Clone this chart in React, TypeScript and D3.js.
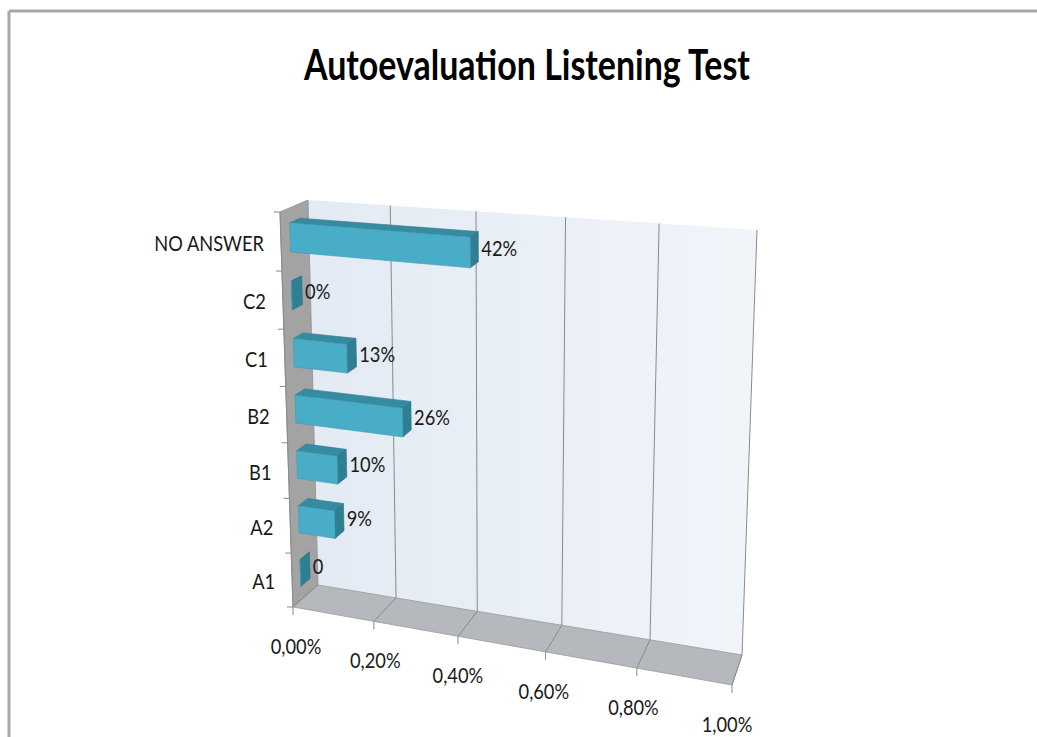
import * as d3 from "d3";

const categories = ["NO ANSWER", "C2", "C1", "B2", "B1", "A2", "A1"];
const values = [0.42, 0, 0.13, 0.26, 0.1, 0.09, 0];
const valueLabels = ["42%", "0%", "13%", "26%", "10%", "9%", "0"];
const tickValues = [0, 0.2, 0.4, 0.6, 0.8, 1];
const tickLabels = ["0,00%", "0,20%", "0,40%", "0,60%", "0,80%", "1,00%"];

type Pt = [number, number];

// square -> quad homography (corners: TL, TR, BR, BL)
function quadMap(p0: Pt, p1: Pt, p2: Pt, p3: Pt) {
  const sx = p0[0] - p1[0] + p2[0] - p3[0];
  const sy = p0[1] - p1[1] + p2[1] - p3[1];
  const dx1 = p1[0] - p2[0], dx2 = p3[0] - p2[0];
  const dy1 = p1[1] - p2[1], dy2 = p3[1] - p2[1];
  const den = dx1 * dy2 - dx2 * dy1;
  const g = (sx * dy2 - dx2 * sy) / den;
  const h = (dx1 * sy - sx * dy1) / den;
  const a = p1[0] - p0[0] + g * p1[0], b = p3[0] - p0[0] + h * p3[0], c = p0[0];
  const d = p1[1] - p0[1] + g * p1[1], e = p3[1] - p0[1] + h * p3[1], f = p0[1];
  return (u: number, v: number): Pt => {
    const w = g * u + h * v + 1;
    return [(a * u + b * v + c) / w, (d * u + e * v + f) / w];
  };
}

// back plane and front plane of the 3D box
const back = quadMap([308, 200], [757, 230], [742, 655], [318, 585]);
const front = quadMap([280, 212], [744, 250], [732, 685], [293, 607]);

function P(u: number, v: number, z: number): Pt {
  const f = front(u, v), b = back(u, v);
  return [f[0] + (b[0] - f[0]) * z, f[1] + (b[1] - f[1]) * z];
}

const poly = (pts: Pt[]) => `M${pts.map((p) => p.join(",")).join("L")}Z`;

// narrow label, Calibri-ish proportions
function Label(props: { x: number; y: number; anchor?: string; children: string }) {
  return (
    <text
      transform={`translate(${props.x},${props.y}) scale(0.87,1)`}
      textAnchor={props.anchor ?? "start"}
      dominantBaseline="central"
      fontSize={21}
      fill="#1a1a1a"
    >
      {props.children}
    </text>
  );
}

function App() {
  const x = d3.scaleLinear().domain([0, 1]).range([0, 1]);
  const y = d3
    .scaleBand<string>()
    .domain(categories)
    .range([0, 1])
    .paddingInner(0.5)
    .paddingOuter(0.25);
  const step = y.step();
  const z0 = 0.33;
  const z1 = 0.7;
  const font = "Lato, 'Open Sans', sans-serif";

  return (
    <svg
      width={1037}
      height={737}
      style={{ position: "absolute", left: 0, top: 0, background: "#fff" }}
      fontFamily={font}
    >
      <defs>
        <linearGradient id="wall" x1="300" y1="0" x2="760" y2="0" gradientUnits="userSpaceOnUse">
          <stop offset="0" stopColor="#e3eaf3" />
          <stop offset="1" stopColor="#f1f5fa" />
        </linearGradient>
      </defs>
      {/* chart frame */}
      <line x1={9} y1={11} x2={1037} y2={11} stroke="#a8a8a8" strokeWidth={3} />
      <line x1={9} y1={11} x2={9} y2={737} stroke="#a8a8a8" strokeWidth={3} />

      <text x={304} y={80} fontSize={42} fontWeight="bold" fill="#000" textLength={446} lengthAdjust="spacingAndGlyphs">
        Autoevaluation Listening Test
      </text>

      {/* walls */}
      <path d={poly([P(0, 0, 1), P(1, 0, 1), P(1, 1, 1), P(0, 1, 1)])} fill="url(#wall)" />
      <path d={poly([P(0, 0, 0), P(0, 0, 1), P(0, 1, 1), P(0, 1, 0)])} fill="#a3a3a3" stroke="#8f8f8f" strokeWidth={0.8} />
      <path d={poly([P(0, 1, 0), P(1, 1, 0), P(1, 1, 1), P(0, 1, 1)])} fill="#b5b8bc" stroke="#9a9a9a" strokeWidth={0.8} />

      {/* gridlines */}
      {tickValues.map((t, i) => {
        const a = P(x(t), 0, 1), b = P(x(t), 1, 1), c = P(x(t), 1, 0);
        return (
          <g key={i} stroke="#8a8a8a" strokeWidth={1}>
            {i > 0 && <line x1={a[0]} y1={a[1]} x2={b[0]} y2={b[1]} />}
            <line x1={b[0]} y1={b[1]} x2={c[0]} y2={c[1]} />
            <line x1={c[0]} y1={c[1]} x2={c[0]} y2={c[1] + 8} />
          </g>
        );
      })}

      {/* category axis ticks */}
      {d3.range(categories.length + 1).map((k) => {
        const p = P(0, k * step, 0);
        return <line key={k} x1={p[0] - 6} y1={p[1]} x2={p[0]} y2={p[1]} stroke="#8a8a8a" strokeWidth={1} />;
      })}
      {(() => {
        const a = P(0, 0, 0), b = P(0, 1, 0);
        return <line x1={a[0]} y1={a[1]} x2={b[0]} y2={b[1]} stroke="#8a8a8a" strokeWidth={1} />;
      })()}

      {/* bars */}
      {categories.map((cat, i) => {
        const v0 = y(cat) ?? 0;
        const v1 = v0 + y.bandwidth();
        const u = x(values[i]);
        const top = [P(0, v0, z0), P(u, v0, z0), P(u, v0, z1), P(0, v0, z1)];
        const end = [P(u, v0, z0), P(u, v0, z1), P(u, v1, z1), P(u, v1, z0)];
        const fr = [P(0, v0, z0), P(u, v0, z0), P(u, v1, z0), P(0, v1, z0)];
        const lp = P(u, (v0 + v1) / 2, z1);
        return (
          <g key={cat}>
            <path d={poly(top)} fill="#378ba1" stroke="#2f7d92" strokeWidth={0.6} />
            <path d={poly(end)} fill="#2f7f94" stroke="#2a7287" strokeWidth={0.6} />
            <path d={poly(fr)} fill="#4aadc8" stroke="#3c9bb3" strokeWidth={0.6} />
            <Label x={lp[0] + 3} y={lp[1] + 1}>{valueLabels[i]}</Label>
          </g>
        );
      })}

      {/* category labels */}
      {categories.map((cat) => {
        const p = P(0, (y(cat) ?? 0) + y.bandwidth() / 2, 0);
        return (
          <Label key={cat} x={p[0] - 17} y={p[1] + 1} anchor="end">
            {cat}
          </Label>
        );
      })}

      {/* value axis labels */}
      {tickValues.map((t, i) => {
        const p = P(x(t), 1, 0);
        return (
          <Label key={t} x={p[0] + 3 - 8 * t} y={p[1] + 39} anchor="middle">
            {tickLabels[i]}
          </Label>
        );
      })}
    </svg>
  );
}

export default App;
